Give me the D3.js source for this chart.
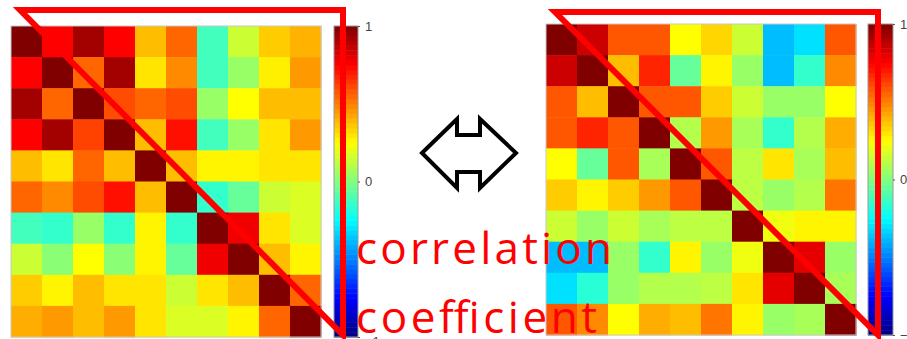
<!DOCTYPE html>
<html>
<head>
<meta charset="utf-8">
<script src="https://cdn.jsdelivr.net/npm/d3@7"></script>
<style>
  html, body { margin: 0; padding: 0; background: #fff; }
  svg { display: block; }
</style>
</head>
<body>
<svg id="chart" width="907" height="339"></svg>
<script>
// Variable indices along both axes of each matrix
const variables = d3.range(10);

// Correlation matrix before the change
const leftMatrix = [
  [ 1.00, 0.75, 0.93, 0.75, 0.38, 0.55,-0.12, 0.15, 0.35, 0.40],
  [ 0.75, 1.00, 0.55, 0.93, 0.30, 0.48,-0.12, 0.05, 0.28, 0.45],
  [ 0.93, 0.55, 1.00, 0.60, 0.55, 0.60, 0.05, 0.25, 0.38, 0.38],
  [ 0.75, 0.93, 0.62, 1.00, 0.38, 0.72,-0.12, 0.05, 0.30, 0.45],
  [ 0.38, 0.30, 0.55, 0.38, 1.00, 0.38, 0.27, 0.27, 0.30, 0.30],
  [ 0.55, 0.48, 0.60, 0.72, 0.38, 1.00,-0.15,-0.05, 0.15, 0.18],
  [-0.12,-0.15, 0.05,-0.15, 0.27,-0.15, 1.00, 0.78, 0.30, 0.18],
  [ 0.15, 0.02, 0.25, 0.02, 0.27,-0.05, 0.78, 1.00, 0.38, 0.27],
  [ 0.35, 0.27, 0.38, 0.30, 0.30, 0.15, 0.30, 0.38, 1.00, 0.55],
  [ 0.41, 0.45, 0.38, 0.45, 0.30, 0.18, 0.18, 0.27, 0.55, 1.00]
];

// Correlation matrix after the change
const rightMatrix = [
  [ 1.00, 0.85, 0.58, 0.58, 0.25, 0.33, 0.15,-0.38,-0.31, 0.58],
  [ 0.85, 1.00, 0.38, 0.68,-0.05, 0.27, 0.05,-0.38,-0.15, 0.48],
  [ 0.58, 0.38, 1.00, 0.58, 0.58, 0.35, 0.15, 0.05, 0.05, 0.25],
  [ 0.58, 0.68, 0.58, 1.00, 0.10, 0.45, 0.08,-0.15, 0.10, 0.41],
  [ 0.25,-0.05, 0.58, 0.08, 1.00, 0.58, 0.12, 0.30, 0.08, 0.38],
  [ 0.35, 0.27, 0.35, 0.45, 0.58, 1.00, 0.12, 0.05, 0.10, 0.52],
  [ 0.15, 0.05, 0.15, 0.08, 0.12, 0.12, 1.00, 0.22, 0.27, 0.27],
  [-0.38,-0.38, 0.05,-0.15, 0.27, 0.05, 0.22, 1.00, 0.80, 0.05],
  [-0.31,-0.17, 0.05, 0.10, 0.10, 0.12, 0.30, 0.80, 1.00, 0.08],
  [ 0.58, 0.48, 0.25, 0.41, 0.38, 0.52, 0.27, 0.05, 0.08, 1.00]
];

// Colour bar ticks and captions
const colorbarTicks = [-1, 0, 1];
const captionLines = ["correlation", "coefficient"];

// Jet colour map (dark blue -> cyan -> yellow -> dark red)
function jet(t) {
  const c = v => Math.max(0, Math.min(1, v));
  const r = c(1.5 - Math.abs(4 * t - 3));
  const g = c(1.5 - Math.abs(4 * t - 2));
  const b = c(1.5 - Math.abs(4 * t - 1));
  return d3.rgb(r * 255, g * 255, b * 255).formatHex();
}
const color = d3.scaleSequential(jet).domain([-1, 1]);

const svg = d3.select("#chart");

const panels = [
  { data: leftMatrix,  x: [11, 321],  y: [26, 337], bar: [334, 358], lowShift: 4,
    tri: [[20, 10], [343, 10], [343, 335]] },
  { data: rightMatrix, x: [546, 856], y: [24, 335], bar: [868, 893], lowShift: 0,
    tri: [[555, 12], [878, 12], [878, 335]] }
];

panels.forEach(p => {
  const g = svg.append("g");
  const xs = d3.scaleBand().domain(variables).range(p.x);
  const ys = d3.scaleBand().domain(variables).range(p.y);

  const cells = [];
  p.data.forEach((row, i) => row.forEach((v, j) => cells.push({ i, j, v })));

  g.selectAll("rect.cell").data(cells).join("rect")
    .attr("class", "cell")
    .attr("x", d => xs(d.j))
    .attr("y", d => ys(d.i))
    .attr("width", xs.bandwidth() + 0.5)
    .attr("height", ys.bandwidth() + 0.5)
    .attr("fill", d => color(d.v));

  g.append("rect")
    .attr("x", p.x[0]).attr("y", p.y[0])
    .attr("width", p.x[1] - p.x[0]).attr("height", p.y[1] - p.y[0])
    .attr("fill", "none").attr("stroke", "#c8c8c8").attr("stroke-width", 1);

  // Colour bar
  const cy = d3.scaleLinear().domain([-1, 1]).range([p.y[1], p.y[0]]);
  const steps = d3.range(64).map(k => -1 + (k + 0.5) * 2 / 64);
  const stepH = (p.y[1] - p.y[0]) / 64;
  g.selectAll("rect.cb").data(steps).join("rect")
    .attr("class", "cb")
    .attr("x", p.bar[0])
    .attr("y", d => cy(d) - stepH / 2)
    .attr("width", p.bar[1] - p.bar[0])
    .attr("height", stepH + 0.5)
    .attr("fill", d => color(d));
  g.append("rect")
    .attr("x", p.bar[0]).attr("y", p.y[0])
    .attr("width", p.bar[1] - p.bar[0]).attr("height", p.y[1] - p.y[0])
    .attr("fill", "none").attr("stroke", "#9a9a9a").attr("stroke-width", 1);

  const axis = d3.axisRight(cy).tickValues(colorbarTicks)
    .tickSize(2).tickPadding(5).tickFormat(d3.format("d"));
  const ax = g.append("g")
    .attr("transform", `translate(${p.bar[1]},0)`)
    .call(axis);
  ax.select(".domain").remove();
  ax.selectAll(".tick line").attr("stroke", "#555");
  ax.selectAll(".tick text")
    .attr("fill", "#444")
    .attr("y", d => d === -1 ? p.lowShift : 0)
    .style("font-family", "'Liberation Sans', Arial, sans-serif")
    .style("font-size", "13px");

  // Triangle marking the upper half of the matrix
  g.append("path")
    .attr("d", d3.line()(p.tri) + "Z")
    .attr("fill", "none")
    .attr("stroke", "#ff0000")
    .attr("stroke-width", 6)
    .attr("stroke-linejoin", "miter");
});

// Double-headed arrow between the two matrices
const arrowPts = [
  [422, 153], [457, 119], [457, 135], [480, 135], [480, 119],
  [516, 153], [480, 188], [480, 172], [457, 172], [457, 188]
];
svg.append("path")
  .attr("d", d3.line()(arrowPts) + "Z")
  .attr("fill", "#fff")
  .attr("stroke", "#000")
  .attr("stroke-width", 4)
  .attr("stroke-linejoin", "miter");

// Caption
const captionWidths = [256, 241];
svg.selectAll("text.caption").data(captionLines).join("text")
  .attr("class", "caption")
  .attr("x", 356)
  .attr("y", (d, i) => 264 + i * 69)
  .attr("textLength", (d, i) => captionWidths[i])
  .attr("lengthAdjust", "spacing")
  .attr("fill", "#ff0000")
  .style("font-family", "'Open Sans', 'Noto Sans', sans-serif")
  .style("font-size", "44px")
  .text(d => d);
</script>
</body>
</html>
